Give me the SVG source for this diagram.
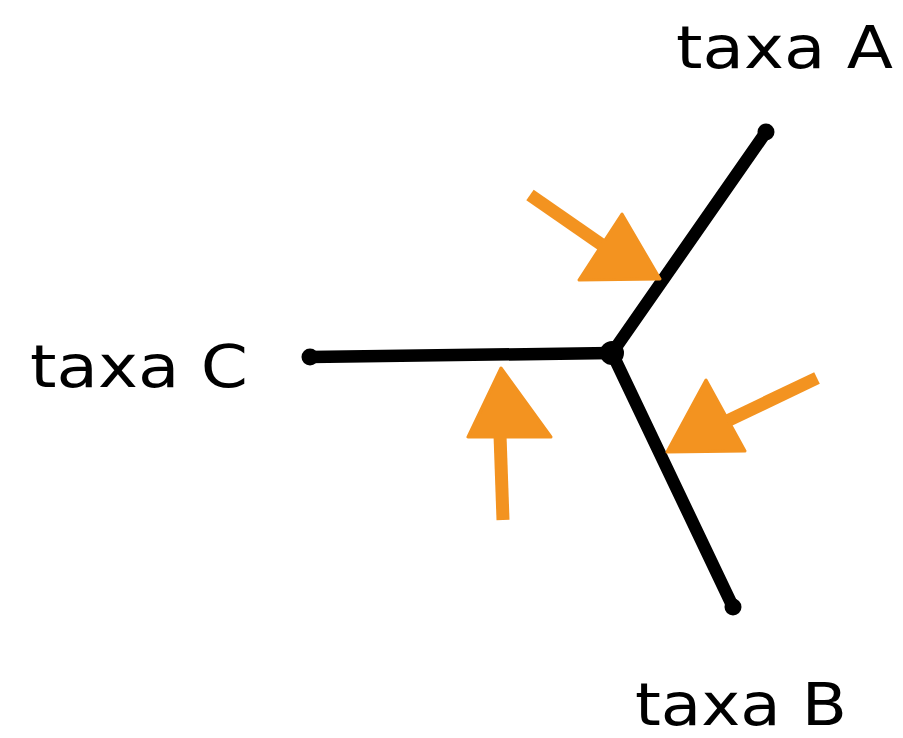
<svg xmlns="http://www.w3.org/2000/svg" width="903" height="738" viewBox="0 0 903 738">
<style>
.lbl{font-family:"DejaVu Sans","Lato",sans-serif;font-size:58px;fill:#000}
.br{stroke:#000;stroke-width:12.5;stroke-linecap:round;fill:none}
.tip{fill:#000}
.ar{fill:#F39320;stroke:#F39320;stroke-linejoin:round}
.sh{stroke:#F39320;stroke-width:13;stroke-linecap:butt;fill:none}
</style>
<rect width="903" height="738" fill="#fff"/>
<g id="connectors">
<path class="br" d="M612,353 L766,132"/>
<path class="br" d="M612,353 L310,357"/>
<path class="br" d="M612,353 L733,607"/>
<circle class="tip" cx="612" cy="353" r="12"/>
<circle class="tip" cx="766" cy="132" r="8.5"/>
<circle class="tip" cx="310" cy="357" r="8.5"/>
<circle class="tip" cx="733" cy="607" r="8.5"/>
</g>
<g id="taxaA"><text class="lbl" x="676" y="68" textLength="217" lengthAdjust="spacingAndGlyphs">taxa A</text></g>
<g id="taxaB"><text class="lbl" x="635" y="725" textLength="212" lengthAdjust="spacingAndGlyphs">taxa B</text></g>
<g id="taxaC"><text class="lbl" x="30" y="387" textLength="218" lengthAdjust="spacingAndGlyphs">taxa C</text></g>
<g id="arrow1">
<path class="sh" d="M530,195 L605,247"/>
<polygon class="ar" stroke-width="3" points="622,214 579,280 660,279"/>
</g>
<g id="arrow2">
<path class="sh" d="M500,435 L503,520"/>
<polygon class="ar" stroke-width="3" points="501,368 468,437 551,437"/>
</g>
<g id="arrow3">
<path class="sh" d="M817,378 L725,422"/>
<polygon class="ar" stroke-width="3" points="706,380 667,452 745,451"/>
</g>
</svg>
